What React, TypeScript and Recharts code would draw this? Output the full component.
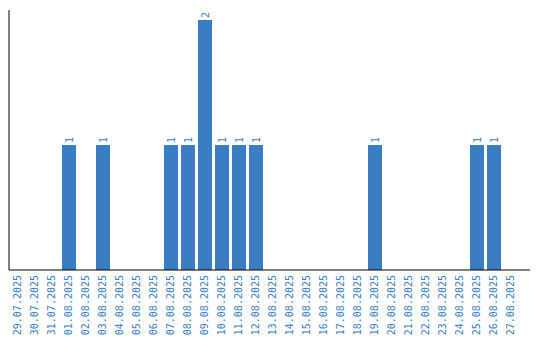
import React from "react";
import { Bar, BarChart, LabelList, XAxis, YAxis } from "recharts";

const DATES = [
  "29.07.2025", "30.07.2025", "31.07.2025", "01.08.2025", "02.08.2025", "03.08.2025",
  "04.08.2025", "05.08.2025", "06.08.2025", "07.08.2025", "08.08.2025", "09.08.2025",
  "10.08.2025", "11.08.2025", "12.08.2025", "13.08.2025", "14.08.2025", "15.08.2025",
  "16.08.2025", "17.08.2025", "18.08.2025", "19.08.2025", "20.08.2025", "21.08.2025",
  "22.08.2025", "23.08.2025", "24.08.2025", "25.08.2025", "26.08.2025", "27.08.2025",
];

const COUNTS = [
  0, 0, 0, 1, 0, 1,
  0, 0, 0, 1, 1, 2,
  1, 1, 1, 0, 0, 0,
  0, 0, 0, 1, 0, 0,
  0, 0, 0, 1, 1, 0,
];

const BLUE = "#3a7dc3";
const FONT = "'DejaVu Sans Mono', monospace";

const data = DATES.map((date, i) => ({ date, count: COUNTS[i] }));

function DateTick(props: any) {
  const { x, y, payload } = props;
  const ty = y - 3;
  return (
    <text
      x={x}
      y={ty}
      transform={`rotate(-90, ${x}, ${ty})`}
      textAnchor="end"
      dominantBaseline="central"
      fill={BLUE}
      fontSize={10}
      fontFamily={FONT}
    >
      {payload.value}
    </text>
  );
}

function ValueLabel(props: any) {
  const { x, y, width, value } = props;
  if (!value) return null;
  const cx = x + width / 2;
  const ty = y - 2;
  return (
    <text
      x={cx}
      y={ty}
      transform={`rotate(-90, ${cx}, ${ty})`}
      textAnchor="start"
      dominantBaseline="central"
      fill={BLUE}
      fontSize={10}
      fontFamily={FONT}
    >
      {value}
    </text>
  );
}

export default function App() {
  return (
    <div style={{ position: "fixed", left: 0, top: 0, background: "#fff" }}>
      <BarChart
        width={540}
        height={340}
        data={data}
        margin={{ top: 10, right: 10, bottom: 0, left: 8 }}
        barSize={14}
      >
        <XAxis
          dataKey="date"
          interval={0}
          height={70}
          tickLine={false}
          axisLine={{ stroke: "#000" }}
          padding={{ left: 0, right: 11 }}
          tick={<DateTick />}
        />
        <YAxis
          width={1}
          domain={[0, 2.08]}
          ticks={[]}
          tick={false}
          tickLine={false}
          axisLine={{ stroke: "#000" }}
        />
        <Bar dataKey="count" fill={BLUE} isAnimationActive={false}>
          <LabelList dataKey="count" content={<ValueLabel />} />
        </Bar>
      </BarChart>
    </div>
  );
}
